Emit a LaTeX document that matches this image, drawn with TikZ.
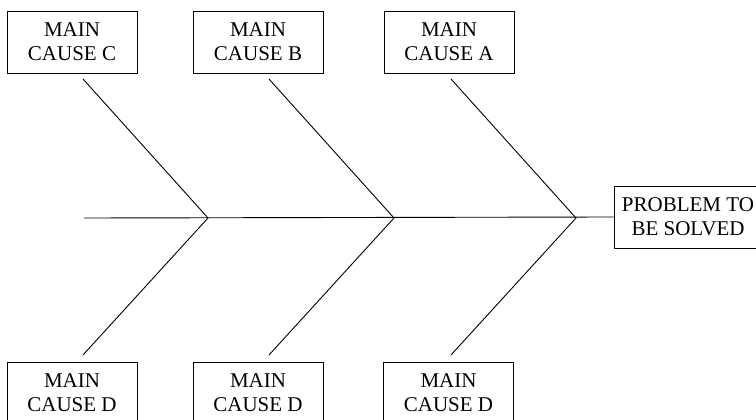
\documentclass[tikz,border=0pt]{standalone}
\usepackage{fontspec}
\setmainfont{Liberation Serif}
\usepackage{tikz}

\tikzset{
  causebox/.style={draw, line width=0.9pt, minimum width=130pt, minimum height=62pt,
    inner sep=0pt, align=center, font=\fontsize{21}{24}\selectfont},
  bone/.style={line width=0.9pt}
}

\begin{document}
\begin{tikzpicture}[x=1pt, y=-1pt]
                \useasboundingbox (0,0) rectangle (756,420);
                % cause boxes, top row and bottom row
                \node[causebox] (causeC) at (72,42) {MAIN\\CAUSE C};
                \node[causebox] (causeB) at (258,42) {MAIN\\CAUSE B};
                \node[causebox] (causeA) at (449,42) {MAIN\\CAUSE A};
                \node[causebox] (causeD1) at (72,393) {MAIN\\CAUSE D};
                \node[causebox] (causeD2) at (258,393) {MAIN\\CAUSE D};
                \node[causebox] (causeD3) at (448.5,393) {MAIN\\CAUSE D};
                \node[causebox, minimum width=148pt] (problem) at (688,217) {PROBLEM TO\\BE SOLVED};
                % spine and the points where the bones meet it
                \coordinate (tail) at (84,218);
                \coordinate (j1) at (208,218);
                \coordinate (j2) at (394,218);
                \coordinate (j3) at (576,218);
                \draw[bone] (tail) -- (problem.west);
                % free ends of the bones, under and over the boxes
                \coordinate (upC) at (83,79);
                \coordinate (upB) at (269,79);
                \coordinate (upA) at (451,79);
                \coordinate (lowC) at (83,355);
                \coordinate (lowB) at (269,355);
                \coordinate (lowA) at (451,355);
                \draw[bone] (upC) -- (j1) -- (lowC);
                \draw[bone] (upB) -- (j2) -- (lowB);
                \draw[bone] (upA) -- (j3) -- (lowA);
            \end{tikzpicture}
\end{document}
